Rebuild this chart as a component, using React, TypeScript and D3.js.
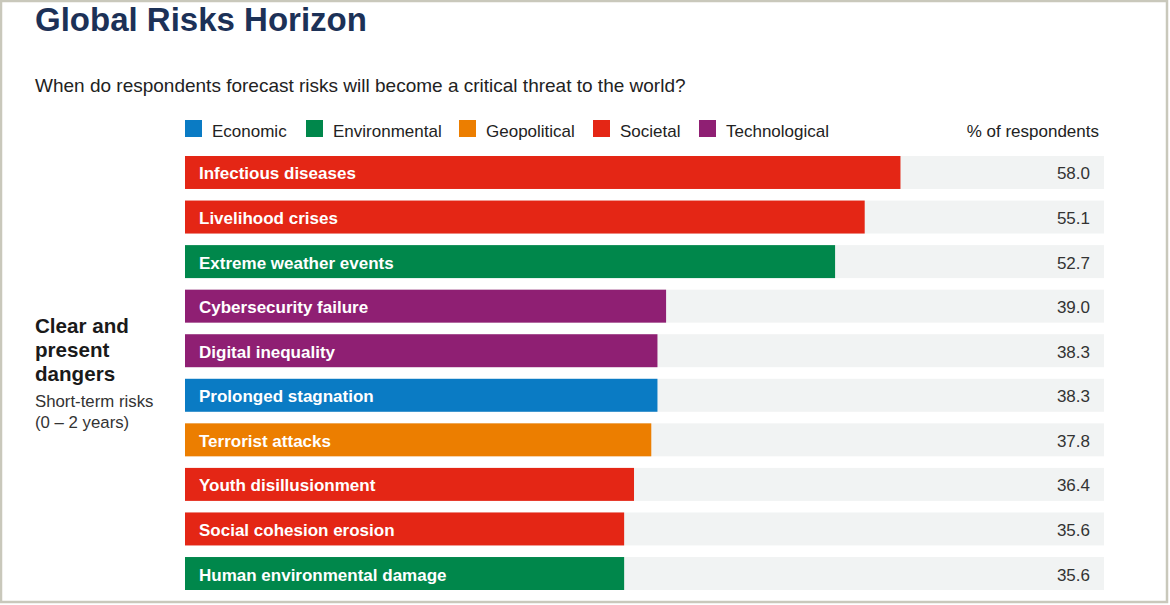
import React from "react";
import * as d3 from "d3";

const categories = ["Economic", "Environmental", "Geopolitical", "Societal", "Technological"];
const categoryColors = ["#0a7bc4", "#00874b", "#ec7e00", "#e42615", "#8f1f73"];

const risks = [
  "Infectious diseases",
  "Livelihood crises",
  "Extreme weather events",
  "Cybersecurity failure",
  "Digital inequality",
  "Prolonged stagnation",
  "Terrorist attacks",
  "Youth disillusionment",
  "Social cohesion erosion",
  "Human environmental damage",
];
const riskCategory = [
  "Societal",
  "Societal",
  "Environmental",
  "Technological",
  "Technological",
  "Economic",
  "Geopolitical",
  "Societal",
  "Societal",
  "Environmental",
];
const values = [58.0, 55.1, 52.7, 39.0, 38.3, 38.3, 37.8, 36.4, 35.6, 35.6];

const W = 1170;
const H = 605;
const FONT = "'Liberation Sans', Arial, Helvetica, sans-serif";

export default function App() {
  const x = d3.scaleLinear().domain([0, 74.5]).range([185, 1104]);
  const y = d3.scaleBand<string>().domain(risks).range([156, 590]).paddingInner(0.26).paddingOuter(0);
  const color = d3.scaleOrdinal<string, string>().domain(categories).range(categoryColors);
  const legendX = [185, 306, 459, 593, 699];

  return (
    <svg
      width={W}
      height={H}
      style={{ position: "absolute", left: 0, top: 0, background: "#fff" }}
      fontFamily={FONT}
    >
      <rect x={1} y={1} width={W - 4} height={H - 4} fill="#fff" stroke="#c9c8bb" strokeWidth={2.5} />
      <text x={35} y={31} fontSize={33} fontWeight="bold" fill="#1c3157">
        Global Risks Horizon
      </text>
      <text x={35} y={92} fontSize={19} fill="#222">
        When do respondents forecast risks will become a critical threat to the world?
      </text>

      {categories.map((c, i) => (
        <g key={c}>
          <rect x={legendX[i]} y={120} width={17} height={17} fill={color(c)} />
          <text x={legendX[i] + 27} y={137} fontSize={17} fill="#222">
            {c}
          </text>
        </g>
      ))}
      <text x={1099} y={137} fontSize={17} fill="#222" textAnchor="end">
        % of respondents
      </text>

      {risks.map((r, i) => {
        const yy = y(r)!;
        const bh = y.bandwidth();
        return (
          <g key={r}>
            <rect x={x(0)} y={yy} width={x(74.5) - x(0)} height={bh} fill="#f1f3f3" />
            <rect x={x(0)} y={yy} width={x(values[i]) - x(0)} height={bh} fill={color(riskCategory[i])} />
            <text x={199} y={yy + bh / 2 + 7} fontSize={17} fontWeight="bold" fill="#fff">
              {r}
            </text>
            <text x={1090} y={yy + bh / 2 + 7} fontSize={17} fill="#333" textAnchor="end">
              {values[i].toFixed(1)}
            </text>
          </g>
        );
      })}

      <text fontSize={20.6} fontWeight="bold" fill="#1a1a1a">
        <tspan x={35} y={333}>Clear and</tspan>
        <tspan x={35} y={357}>present</tspan>
        <tspan x={35} y={381}>dangers</tspan>
      </text>
      <text fontSize={16.8} fill="#333">
        <tspan x={35} y={407}>Short-term risks</tspan>
        <tspan x={35} y={428}>(0 – 2 years)</tspan>
      </text>
    </svg>
  );
}
